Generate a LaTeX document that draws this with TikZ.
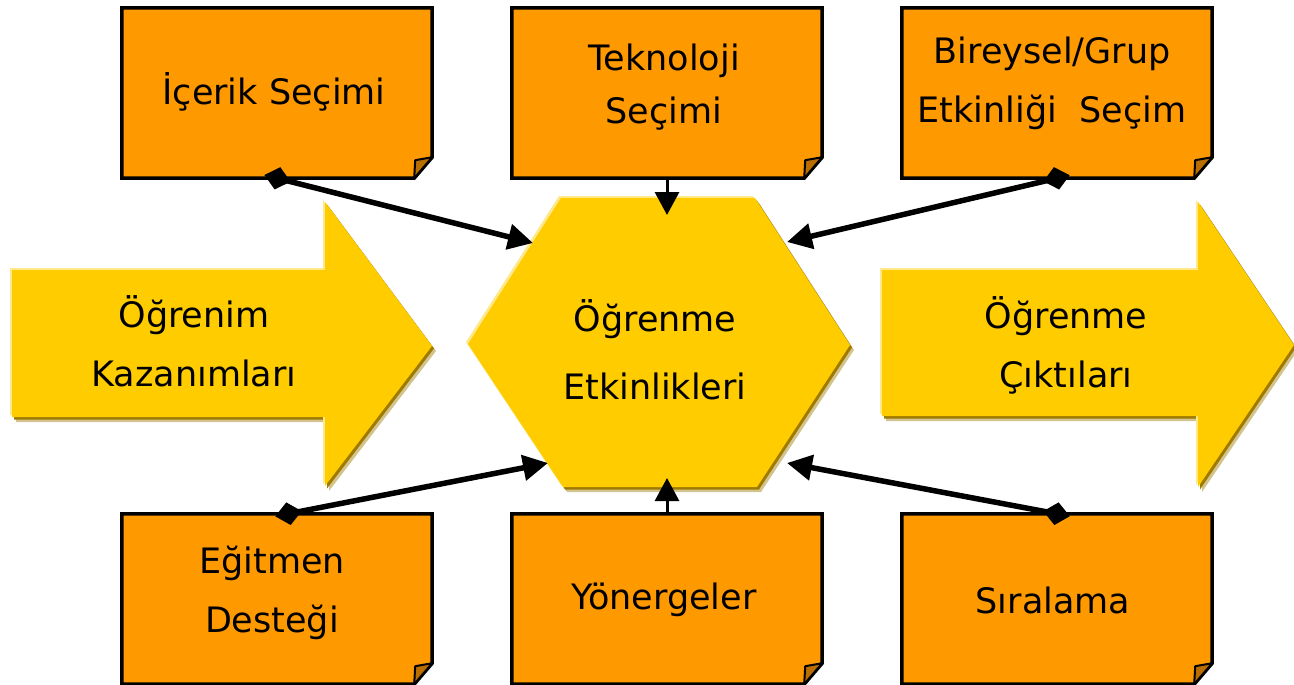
\documentclass[tikz,border=0pt]{standalone}
\usepackage{fontspec}
\setmainfont{DejaVu Sans}
\usetikzlibrary{arrows.meta}
\definecolor{boxfill}{HTML}{FF9900}
\definecolor{foldfill}{HTML}{B86E00}
\definecolor{gold}{HTML}{FFCC00}
\definecolor{goldshade}{HTML}{9E7A00}
\definecolor{goldlight}{HTML}{FFE88A}
% yellow shape with a light upper-left rim and a dark lower-right rim
\newcommand\goldshape[1]{%
  \fill[goldshade!45, shift={(4,5)}] #1;
  \fill[goldshade, shift={(2,2.5)}] #1;
  \fill[goldlight, shift={(-2,-2)}] #1;
  \fill[gold] #1;
}
\begin{document}
\begin{tikzpicture}[x=1pt,y=-1pt,
  txt/.style={font=\fontsize{35}{56}\selectfont, align=center, inner sep=0pt, text=black},
  notebox/.style={minimum width=310pt, minimum height=170pt, inner sep=0pt},
  conn/.style={line width=5.5pt, shorten <=-13pt,
    {Diamond[length=27pt,width=23pt]}-{Triangle[length=25pt,width=25pt]}},
  vconn/.style={line width=3pt, -{Triangle[length=23pt,width=24pt]}}]
\useasboundingbox (0,0) rectangle (1294,685);

% input and output arrows, central hexagon
\goldshape{(12,270) -- (325,270) -- (325,202) -- (432,346) -- (325,486) -- (325,417) -- (12,417) -- cycle}
\goldshape{(882,270) -- (1198,270) -- (1198,202) -- (1294,345) -- (1198,487) -- (1198,416) -- (882,416) -- cycle}
\goldshape{(561,198) -- (755,198) -- (850,345) -- (757,487) -- (563,487) -- (468,344) -- cycle}

\node[txt] (kaz) at (194,341) {Öğrenim\\[3pt]Kazanımları};
\node[txt, font=\fontsize{35}{68}\selectfont] (etk) at (655,350) {Öğrenme\\Etkinlikleri};
\node[txt] (cik) at (1066,345) {Öğrenme\\[3pt]Çıktıları};

% note boxes with folded corner
\node[notebox] (ic) at (277,93) {};
\node[notebox] (tk) at (667,93) {};
\node[notebox] (bg) at (1057,93) {};
\node[notebox] (eg) at (277,599) {};
\node[notebox] (yo) at (667,599) {};
\node[notebox] (si) at (1057,599) {};
\foreach \n in {ic,tk,bg,eg,yo,si}{
  \filldraw[fill=boxfill, draw=black, line width=3.5pt, line join=miter]
    (\n.north west) -- (\n.north east) -- ([yshift=21pt]\n.south east)
    -- ([xshift=-18pt]\n.south east) -- (\n.south west) -- cycle;
  \filldraw[fill=foldfill, draw=black, line width=2pt, line join=round]
    ([yshift=21pt]\n.south east) -- ([xshift=-17pt,yshift=18pt]\n.south east)
    -- ([xshift=-18pt]\n.south east) -- cycle;
}
\node[txt] (ic-t) at (274,92) {İçerik Seçimi};
\node[txt, font=\fontsize{35}{53}\selectfont] (tk-t) at (664,87) {Teknoloji\\Seçimi};
\node[txt, font=\fontsize{35}{59}\selectfont] (bg-t) at (1052,83) {Bireysel/Grup\\Etkinliği~~Seçim};
\node[txt, font=\fontsize{35}{59}\selectfont] (eg-t) at (272,593) {Eğitmen\\Desteği};
\node[txt] (yo-t) at (664,600) {Yönergeler};
\node[txt] (si-t) at (1053,600) {Sıralama};

% attachment points on the hexagon
\coordinate (hTL) at (533,243);
\coordinate (hTR) at (787,242);
\coordinate (hBL) at (548,463);
\coordinate (hBR) at (787,463);
\coordinate (hT) at (667,215);
\coordinate (hB) at (667,478);

\draw[conn] (ic.south) -- (hTL);
\draw[conn] (bg.south) -- (hTR);
\draw[conn] ([xshift=11pt]eg.north) -- (hBL);
\draw[conn] (si.north) -- (hBR);
\draw[vconn] (tk.south) -- (hT);
\draw[vconn] (yo.north) -- (hB);
\end{tikzpicture}
\end{document}
